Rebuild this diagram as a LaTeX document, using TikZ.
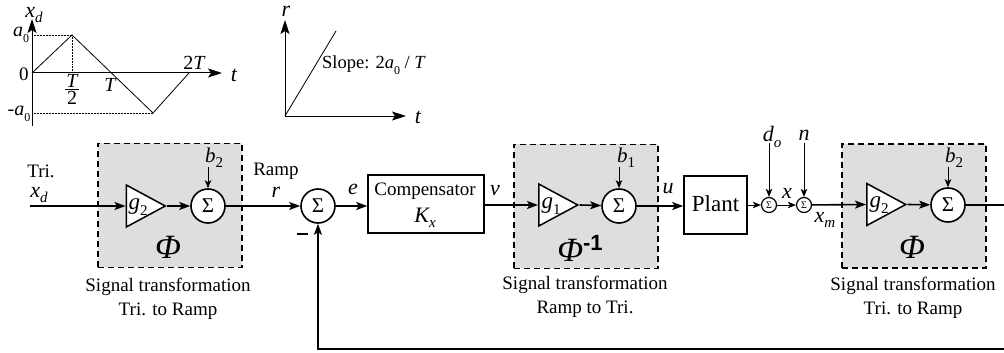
\documentclass[tikz,border=0pt]{standalone}
\usepackage{fontspec}
\setmainfont{Liberation Serif}
\newfontfamily\sansb{Liberation Sans}
\usetikzlibrary{arrows.meta,shapes.geometric}
\tikzset{
  sig/.style={line width=1.6pt,-{Stealth[length=11pt,width=8pt,inset=2.5pt]}},
  sigthin/.style={line width=1pt,-{Stealth[length=8pt,width=6.5pt,inset=2pt]}},
  plainline/.style={line width=1.6pt},
  axisline/.style={line width=1pt,-{Stealth[length=14pt,width=9pt,inset=3pt]}},
  curveline/.style={line width=.8pt},
  guide/.style={line width=.5pt,densely dotted},
  groupbox/.style={draw,dash pattern=on 6pt off 4pt,line width=1.7pt,fill=black!13,minimum width=144pt,minimum height=124pt,inner sep=0,anchor=north west},
  gain/.style={draw,fill=white,line width=1.5pt,isosceles triangle,isosceles triangle stretches,minimum width=42pt,minimum height=39pt,inner sep=0,anchor=lower side},
  sumb/.style={draw,fill=white,circle,line width=1.6pt,minimum size=34pt,inner sep=0,font=\fontsize{21}{21}\selectfont},
  sums/.style={draw,fill=white,circle,line width=1.2pt,minimum size=15pt,inner sep=0,font=\fontsize{10}{10}\selectfont},
  blockbox/.style={draw,line width=1.5pt,inner sep=0},
  lab/.style={inner sep=0,font=\fontsize{19}{21}\selectfont},
  mlab/.style={inner sep=0,font=\fontsize{22}{22}\selectfont\itshape},
  blab/.style={inner sep=0,font=\fontsize{21}{21}\selectfont\itshape},
  tick/.style={inner sep=0,font=\fontsize{20}{20}\selectfont\itshape},
  captext/.style={inner sep=0,align=center,font=\fontsize{19}{24.5}\selectfont},
  phisym/.style={inner sep=0,font=\fontsize{34}{34}\selectfont\itshape},
}
\newcommand{\subs}[1]{\raisebox{-.25em}{\fontsize{15}{15}\selectfont #1}}
\newcommand{\subz}[1]{\raisebox{-.3em}{\fontsize{12}{12}\selectfont\upshape #1}}
\begin{document}
\begin{tikzpicture}[x=1pt,y=-1pt]
\useasboundingbox (0,0) rectangle (1004,353);
% --- plot 1
\coordinate (o1) at (32,73); \coordinate (yt1) at (32,19); \coordinate (yb1) at (32,126);
\coordinate (xe1) at (222,73);
\coordinate (p1) at (72,35); \coordinate (p2) at (113,73); \coordinate (p3) at (153,113); \coordinate (p4) at (189,73);
\coordinate (g1) at (72,73); \coordinate (g2) at (32,35); \coordinate (g3) at (32,113);
\draw[guide] (g2) -- (p1) -- (g1);
\draw[guide] (g3) -- (p3);
\draw[curveline] (o1) -- (p1) -- (p3) -- (p4);
\draw[line width=1pt] (o1) -- (yb1);
\draw[axisline] (o1) -- (yt1);
\draw[axisline] (o1) -- (xe1);
\node[mlab] (lxd) at (34,15) {x\subs{d}};
\node[tick] (la0) at (21,35) {a\subz{0}};
\node[lab] (l0) at (24,74) {0};
\node[tick] (lT2a) at (72,81) {T};
\node[inner sep=0,fill=black,minimum width=14pt,minimum height=.8pt] (lT2b) at (72,89) {};
\node[tick,font=\fontsize{20}{20}\selectfont] (lT2c) at (72,98) {2};
\node[tick] (lT) at (110,85) {T};
\node[tick] (l2T) at (194,63) {\upshape 2\itshape T};
\node[mlab] (lt1) at (234,75) {t};
\node[tick] (lma0) at (19,114) {\upshape -\itshape a\subz{0}};
% --- plot 2
\coordinate (o2) at (285,116); \coordinate (yt2) at (285,20); \coordinate (xe2) at (406,116); \coordinate (e2) at (336,31);
\draw[curveline] (o2) -- (e2);
\draw[axisline] (o2) -- (yt2);
\draw[axisline] (o2) -- (xe2);
\node[mlab] (lr2) at (286,11) {r};
\node[mlab] (lt2) at (418,117) {t};
\node[lab,font=\fontsize{18.5}{19}\selectfont] (lslope) at (374,65) {Slope: 2\textit{a}\subz{0} / \textit{T}};
% --- group boxes
\node[groupbox] (box1) at (97,142.5) {};
\node[groupbox] (box2) at (513,143.5) {};
\node[groupbox] (box3) at (841,143) {};
% --- input
\coordinate (in) at (30,206);
\node[lab] (ltri) at (41,171) {Tri.};
\node[mlab] (lxd2) at (39,195) {x\subs{d}};
% --- block 1
\node[gain] (g2a) at (125.5,206) {};
\node[tick,font=\fontsize{23}{23}\selectfont\itshape] (g2at) at (138,207) {g\subs{\upshape 2}};
\node[sumb] (s1) at (208,206) {Σ};
\node[blab] (lb2a) at (214,158) {b\subs{\upshape 2}};
\coordinate (b2a) at (208,167);
\node[phisym] (phia) at (168,247) {Φ};
\node[captext] (capa) at (168,299) {Signal transformation\\Tri. to Ramp};
\draw[sig] (in) -- (g2a.lower side);
\draw[sig] (g2a.apex) -- (s1);
\draw[sigthin] (b2a) -- (s1);
% --- summer 2
\node[lab] (lramp) at (276,171) {Ramp};
\node[mlab] (lr) at (276,192) {r};
\node[sumb] (s2) at (318,206) {Σ};
\node[inner sep=0,fill=black,minimum width=11pt,minimum height=2pt] (minus) at (302,234) {};
\draw[sig] (s1) -- (s2);
% --- compensator
\node[blockbox,minimum width=116pt,minimum height=58pt] (comp) at (426,204) {};
\node[lab] (lcomp) at (425,191) {Compensator};
\node[tick,font=\fontsize{22}{22}\selectfont\itshape] (lkx) at (425,218) {K\subs{x}};
\node[mlab] (le) at (353,189) {e};
\node[mlab] (lv) at (495,191) {v};
\draw[sig] (s2) -- (comp.west |- s2);
% --- block 2
\node[gain] (g1a) at (538,205) {};
\node[tick,font=\fontsize{23}{23}\selectfont\itshape] (g1at) at (551,206) {g\subs{\upshape 1}};
\node[sumb] (s3) at (619,206) {Σ};
\node[blab] (lb1) at (626,158) {b\subs{\upshape 1}};
\coordinate (b1a) at (619,167);
\node[phisym] (phib) at (580,248) {Φ\raisebox{.32em}{\sansb\bfseries\upshape\fontsize{22}{22}\selectfont -1}};
\node[captext] (capb) at (585,297) {Signal transformation\\Ramp to Tri.};
\draw[sig] (comp.east |- g1a.lower side) -- (g1a.lower side);
\draw[sig] (g1a.apex) -- (s3);
\draw[sigthin] (b1a) -- (s3);
% --- plant
\node[blockbox,minimum width=63pt,minimum height=58pt] (plant) at (715.5,205) {};
\node[lab,font=\fontsize{23}{23}\selectfont] (lplant) at (715.5,204) {Plant};
\node[mlab] (lu) at (668,189) {u};
\draw[sig] (s3) -- (plant.west |- s3);
% --- disturbances
\node[sums] (s4) at (769,205) {Σ};
\node[sums] (s5) at (804,205) {Σ};
\coordinate (d4) at (769,143); \coordinate (d5) at (804,143);
\node[mlab] (ldo) at (772,137) {d\subs{o}};
\node[mlab] (ln) at (804,135) {n};
\node[mlab] (lx) at (787,193) {x};
\node[mlab] (lxm) at (825,220) {x\subs{m}};
\draw[sigthin] (plant.east |- s4) -- (s4);
\draw[sigthin] (s4) -- (s5);
\draw[sigthin] (d4) -- (s4);
\draw[sigthin] (d5) -- (s5);
% --- block 3
\node[gain] (g2b) at (866,204.5) {};
\node[tick,font=\fontsize{23}{23}\selectfont\itshape] (g2bt) at (879,205) {g\subs{\upshape 2}};
\node[sumb] (s6) at (948,205) {Σ};
\node[blab] (lb2b) at (954,158) {b\subs{\upshape 2}};
\coordinate (b2b) at (948,167);
\node[phisym] (phic) at (912,247) {Φ};
\node[captext] (capc) at (913,298) {Signal transformation\\Tri. to Ramp};
\coordinate (outr) at (1004,205);
\draw[sig] (s5) -- (g2b.lower side);
\draw[sig] (g2b.apex) -- (s6);
\draw[sigthin] (b2b) -- (s6);
\draw[plainline] (s6) -- (outr);
% --- feedback
\coordinate (fbr) at (1004,349);
\draw[sig] (fbr) -| (s2);
\end{tikzpicture}
\end{document}
